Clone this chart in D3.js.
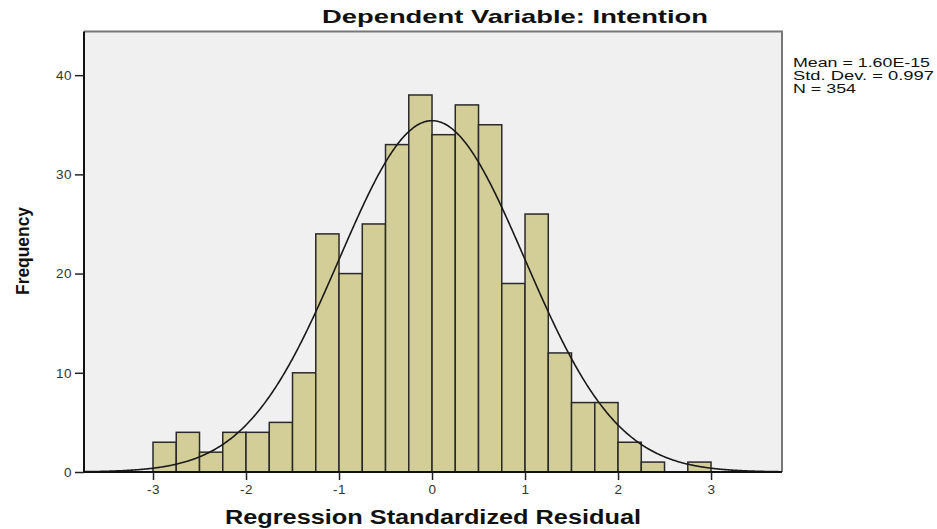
<!DOCTYPE html>
<html>
<head>
<meta charset="utf-8">
<script src="https://cdn.jsdelivr.net/npm/d3@7"></script>
<style>
  body { margin: 0; background: #ffffff; }
  svg { display: block; font-family: "Liberation Sans", Arial, sans-serif; }
</style>
</head>
<body>
<svg id="chart" width="937" height="529"></svg>
<script>
// ---- data ----
const binStarts = [-3.00,-2.75,-2.50,-2.25,-2.00,-1.75,-1.50,-1.25,-1.00,-0.75,-0.50,-0.25,
                    0.00, 0.25, 0.50, 0.75, 1.00, 1.25, 1.50, 1.75, 2.00, 2.25, 2.50, 2.75];
const frequencies = [3,4,2,4,4,5,10,24,20,25,33,38,34,37,35,19,26,12,7,7,3,1,0,1];
const binWidth = 0.25;
const xTicks = [-3,-2,-1,0,1,2,3];
const yTicks = [0,10,20,30,40];
const stats = { mean: 1.60e-15, sd: 0.997, n: 354 };
const legendLines = ["Mean = 1.60E-15", "Std. Dev. = 0.997", "N = 354"];
const legendWidths = [137, 141, 63];
const titleText = "Dependent Variable: Intention";
const xLabel = "Regression Standardized Residual";
const yLabel = "Frequency";

// ---- layout ----
const L = 84, R = 782, T = 31.5, B = 472;
const svg = d3.select("#chart");
const x = d3.scaleLinear().domain([-3.742, 3.763]).range([L, R]);
const y = d3.scaleLinear().domain([0, 44.4]).range([B, T]);

// plot background
svg.append("rect").attr("x", L).attr("y", T).attr("width", R - L).attr("height", B - T)
  .attr("fill", "#f0f0f0");

// bars
svg.append("g").selectAll("rect").data(frequencies.map((f, i) => ({ x0: binStarts[i], f })))
  .join("rect")
  .filter(d => d.f > 0)
  .attr("x", d => x(d.x0))
  .attr("y", d => y(d.f))
  .attr("width", d => x(d.x0 + binWidth) - x(d.x0))
  .attr("height", d => y(0) - y(d.f))
  .attr("fill", "#d3ce98")
  .attr("stroke", "#2a2a2a")
  .attr("stroke-width", 1.5);

// normal curve
const curvePts = d3.range(-3.742, 3.7631, 0.01).map(v => {
  const dens = Math.exp(-0.5 * Math.pow((v - stats.mean) / stats.sd, 2)) / (stats.sd * Math.sqrt(2 * Math.PI));
  return [v, stats.n * binWidth * dens];
});
svg.append("path").datum(curvePts)
  .attr("d", d3.line().x(d => x(d[0])).y(d => y(d[1])).curve(d3.curveBasis))
  .attr("fill", "none").attr("stroke", "#1a1a1a").attr("stroke-width", 1.6);

// frame: top & right gray
svg.append("path")
  .attr("d", `M${L},${T}H${R}V${B}`)
  .attr("fill", "none").attr("stroke", "#777").attr("stroke-width", 2);

// axes
const xAxis = svg.append("g").attr("transform", `translate(0,${B})`)
  .call(d3.axisBottom(x).tickValues(xTicks).tickSize(8).tickPadding(4).tickFormat(d => String(d)));
const yAxis = svg.append("g").attr("transform", `translate(${L},0)`)
  .call(d3.axisLeft(y).tickValues(yTicks).tickSize(9).tickPadding(3).tickFormat(d => String(d)));
[xAxis, yAxis].forEach(g => {
  g.select(".domain").attr("stroke", "#111").attr("stroke-width", 2);
  g.selectAll(".tick line").attr("stroke", "#222").attr("stroke-width", 1.5);
  g.selectAll(".tick text").attr("fill", "#333").style("font-size", "13.5px")
    .style("letter-spacing", "0.5px")
    .style("font-family", "'Liberation Sans', Arial, sans-serif");
});
xAxis.select(".domain").attr("d", `M${L - 1},0H${R}`);
yAxis.select(".domain").attr("d", `M0,${T}V${B + 1}`);

// title
svg.append("text").attr("x", 515).attr("y", 23).attr("text-anchor", "middle")
  .attr("font-weight", "bold").attr("font-size", 19).attr("fill", "#111")
  .attr("textLength", 386).attr("lengthAdjust", "spacingAndGlyphs")
  .text(titleText);

// x label
svg.append("text").attr("x", 433).attr("y", 524).attr("text-anchor", "middle")
  .attr("font-weight", "bold").attr("font-size", 20).attr("fill", "#111")
  .attr("textLength", 416).attr("lengthAdjust", "spacingAndGlyphs")
  .text(xLabel);

// y label
svg.append("text").attr("transform", "translate(29,251) rotate(-90)").attr("text-anchor", "middle")
  .attr("font-weight", "bold").attr("font-size", 18).attr("fill", "#111")
  .attr("textLength", 88).attr("lengthAdjust", "spacingAndGlyphs")
  .text(yLabel);

// legend
svg.append("g").selectAll("text").data(legendLines).join("text")
  .attr("x", 793).attr("y", (d, i) => 67 + i * 13)
  .attr("font-size", 12).attr("fill", "#111")
  .attr("textLength", (d, i) => legendWidths[i]).attr("lengthAdjust", "spacingAndGlyphs")
  .text(d => d);
</script>
</body>
</html>
